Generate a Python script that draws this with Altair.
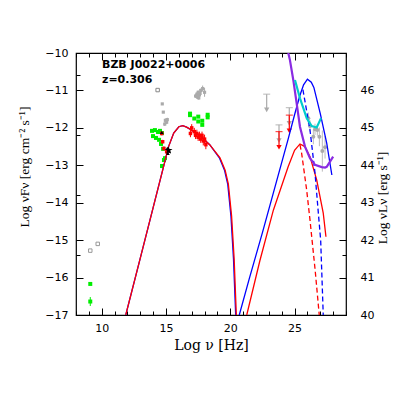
import altair as alt
import pandas as pd

# ---------------- model curves ----------------
sync_red_x = [11.87, 13.0, 14.0, 14.8, 15.2, 15.6, 16.0, 16.3, 16.6, 17.0, 17.6, 18.4, 19.2, 19.6, 19.85, 20.1, 20.3, 20.47]
sync_red_y = [-17.0, -15.48, -14.13, -13.05, -12.5, -12.14, -11.97, -11.94, -11.98, -12.06, -12.2, -12.45, -12.8, -13.13, -13.5, -14.35, -15.5, -17.0]
sync_blue_x = [11.87, 13.0, 14.0, 14.8, 15.2, 15.6, 16.0, 16.3, 16.6, 17.0, 17.6, 18.4, 19.15, 19.55, 19.8, 20.05, 20.25, 20.42]
sync_blue_y = [-17.0, -15.48, -14.13, -13.05, -12.5, -12.14, -11.97, -11.94, -11.98, -12.06, -12.2, -12.45, -12.8, -13.13, -13.5, -14.35, -15.5, -17.0]

ic_blue_x = [20.7, 21.5, 22.5, 23.5, 24.5, 25.0, 25.4, 25.7, 26.0, 26.3, 26.5, 27.0, 27.5, 27.9]
ic_blue_y = [-17.0, -16.0, -14.8, -13.55, -12.3, -11.65, -11.15, -10.85, -10.70, -10.78, -10.92, -11.62, -12.41, -13.26]
ic_red_x = [21.28, 22.3, 23.35, 24.5, 25.0, 25.42, 25.8, 26.2, 26.72, 27.23, 27.44]
ic_red_y = [-17.0, -15.55, -14.2, -13.04, -12.6, -12.43, -12.5, -12.77, -13.39, -14.28, -14.91]
ec_red_x = [25.42, 25.55, 25.94, 26.2, 26.33, 26.6, 26.92]
ec_red_y = [-12.45, -12.68, -13.66, -14.46, -14.9, -15.8, -17.0]
ec_blue_x = [25.65, 26.2, 26.59, 26.85, 27.03, 27.23]
ec_blue_y = [-10.98, -12.06, -13.21, -14.28, -15.0, -17.0]

purple_x = [24.51, 24.64, 24.9, 25.16, 25.42, 25.81, 26.2, 26.59, 27.11, 27.37, 27.5, 28.0]
purple_y = [-10.0, -10.19, -10.72, -11.34, -11.97, -12.5, -12.81, -12.99, -13.05, -13.06, -13.04, -12.77]
cyan_x = [25.03, 25.42, 25.94, 26.33, 26.72, 27.06]
cyan_y = [-10.72, -11.21, -11.74, -11.95, -11.99, -11.74]

# ---------------- data points ----------------
radio_grey_x = [9.11, 9.69]
radio_grey_y = [-15.28, -15.1]
green_x = [9.11, 9.11, 13.91, 14.14, 14.38, 13.99, 14.22, 14.53, 14.69, 14.46, 14.61, 14.77, 14.84, 14.69, 14.92,
           16.87, 16.87, 17.2, 17.51, 17.51, 17.82, 17.82, 18.24, 18.24]
green_y = [-16.17, -16.64, -12.08, -12.06, -12.11, -12.22, -12.27, -12.08, -12.14, -12.32, -12.43, -12.56, -12.86, -13.02, -12.81,
           -11.66, -11.62, -11.75, -11.70, -11.83, -11.81, -11.92, -11.65, -11.72]
green_err = [0.0, 0.12, 0.03, 0.03, 0.03, 0.03, 0.03, 0.03, 0.03, 0.03, 0.05, 0.05, 0.05, 0.05, 0.05,
             0.0, 0.0, 0.0, 0.0, 0.0, 0.0, 0.0, 0.0, 0.0]

grey_x = [14.71, 14.79, 14.95, 15.05, 15.1, 14.9, 17.3, 17.4, 17.5, 17.6, 17.7, 17.45, 17.55, 17.65, 17.85, 18.0]
grey_y = [-11.36, -11.58, -11.8, -11.85, -11.78, -11.9, -11.15, -11.1, -11.05, -11.12, -11.0, -11.18, -11.2, -11.08, -10.95, -11.05]
grey_err = [0.0, 0.0, 0.05, 0.05, 0.05, 0.05, 0.05, 0.05, 0.05, 0.05, 0.05, 0.05, 0.05, 0.05, 0.08, 0.12]
grey_open_x = [14.35]
grey_open_y = [-10.99]

red_x = [14.67, 14.74, 14.84, 15.05, 16.9, 17.0, 17.2, 17.3, 17.4, 17.5, 17.6, 17.7, 17.8, 17.9, 18.0, 18.1]
red_y = [-12.15, -12.37, -12.55, -12.64, -12.15, -12.0, -12.1, -12.2, -12.15, -12.25, -12.2, -12.3, -12.2, -12.35, -12.3, -12.45]
red_err = [0.05, 0.05, 0.05, 0.05, 0.1, 0.1, 0.1, 0.1, 0.1, 0.1, 0.1, 0.1, 0.1, 0.12, 0.12, 0.12]

black_x = [14.67, 15.1, 15.25, 15.15]
black_y = [-12.12, -12.55, -12.62, -12.68]
star_x = [15.2]
star_y = [-12.6]

fermi_x = [26.07, 26.2, 26.46, 26.59, 26.77, 26.93, 27.16, 27.37]
fermi_y = [-11.74, -11.95, -12.24, -12.04, -12.06, -12.24, -12.62, -12.52]
fermi_err = [0.15, 0.15, 0.2, 0.15, 0.15, 0.25, 0.55, 0.3]

ul_grey_x = [22.83, 23.79, 24.59]
ul_grey_y = [-11.10, -11.92, -11.46]
ul_red_x = [23.79, 24.59]
ul_red_y = [-12.10, -11.66]

X_DOM = [8, 29]
Y_DOM = [-17, -10]
R_DOM = [40, 47]
x_major = [10, 15, 20, 25]
x_minor = list(range(8, 30))
y_major = list(range(-17, -9))
y_minor = [round(-17 + 0.2 * i, 1) for i in range(36)]
r_major = list(range(40, 47))
r_minor = [round(40 + 0.2 * i, 1) for i in range(36)]

LINE_FONT = "DejaVu Sans"
TITLE_FONT = "DejaVu Serif"
YTITLE_FONT = "Liberation Serif"


def xenc(axis=None):
    return alt.X("x:Q", scale=alt.Scale(domain=X_DOM, nice=False, zero=False), axis=axis)


def yenc(axis=None, field="y:Q", dom=Y_DOM):
    return alt.Y(field, scale=alt.Scale(domain=dom, nice=False, zero=False), axis=axis)


def curve(xs, ys, color, width=1.3, dash=None):
    df = pd.DataFrame({"x": xs, "y": ys, "o": range(len(xs))})
    kw = dict(color=color, strokeWidth=width, clip=True)
    if dash:
        kw["strokeDash"] = dash
    return alt.Chart(df).mark_line(**kw).encode(x=xenc(), y=yenc(), order="o:Q")


def errbars(xs, ys, es, color):
    df = pd.DataFrame({"x": xs, "y": ys, "e": es})
    return alt.Chart(df).transform_filter("datum.e > 0").transform_calculate(
        lo="datum.y - datum.e", hi="datum.y + datum.e"
    ).mark_rule(color=color, strokeWidth=1).encode(
        x=xenc(), y=yenc(field="lo:Q"), y2="hi:Q"
    )


def pts(xs, ys, color, shape="square", size=14, filled=True):
    df = pd.DataFrame({"x": xs, "y": ys})
    return alt.Chart(df).mark_point(shape=shape, size=size, filled=filled, color=color,
                                    opacity=1, strokeWidth=1).encode(x=xenc(), y=yenc())


def uplims(xs, ys, color):
    df = pd.DataFrame({"x": xs, "y": ys})
    base = alt.Chart(df).transform_calculate(tip="datum.y - 0.42")
    stem = base.mark_rule(color=color, strokeWidth=1.2).encode(x=xenc(), y=yenc(), y2="tip:Q")
    bar = base.mark_tick(color=color, orient="horizontal", size=7, thickness=1.2).encode(x=xenc(), y=yenc())
    head = base.mark_point(shape="triangle-down", filled=True, size=28, color=color, opacity=1).encode(
        x=xenc(), y=yenc(field="tip:Q"))
    return [stem, bar, head]


dummy = pd.DataFrame({"x": [8], "y": [-17], "r": [40]})


def ax_x(orient, values, size, labels, title=None):
    a = alt.Axis(orient=orient, values=values, tickSize=size, offset=-size, domain=False, grid=False,
                 labels=labels, ticks=True, tickColor="black", tickWidth=1,
                 labelFont=LINE_FONT, labelFontSize=11, labelColor="black", labelPadding=7,
                 title=title if title else None, titleFont=TITLE_FONT, titleFontSize=14,
                 titleFontWeight="normal", titleColor="black", titlePadding=5, format="d")
    return alt.Chart(dummy).mark_point(opacity=0).encode(x=xenc(a), y=yenc())


def ax_y(orient, values, size, labels, dom=Y_DOM, field="y:Q", pad=8):
    a = alt.Axis(orient=orient, values=values, tickSize=size, offset=-size, domain=False, grid=False,
                 labels=labels, ticks=True, tickColor="black", tickWidth=1,
                 labelFont=LINE_FONT, labelFontSize=11, labelColor="black", labelPadding=pad,
                 title=None, format="d")
    return alt.Chart(dummy).mark_point(opacity=0).encode(x=xenc(), y=yenc(a, field=field, dom=dom))


layers = []
# axes
layers.append(ax_x("bottom", x_major, 7, True, "Log  ν  [Hz]"))
layers.append(ax_x("bottom", x_minor, 4, False))
layers.append(ax_x("top", x_major, 7, False))
layers.append(ax_x("top", x_minor, 4, False))
layers.append(ax_y("left", y_major, 7, True))
layers.append(ax_y("left", y_minor, 4, False))
layers.append(ax_y("right", r_major, 7, True, dom=R_DOM, field="r:Q", pad=14))
layers.append(ax_y("right", r_minor, 4, False, dom=R_DOM, field="r:Q"))

# y-axis titles (rotated text)
ytitles = [("Log νFν [erg cm⁻² s⁻¹]", -51, 114), ("Log νLν [erg s⁻¹]", 307, 145)]
for t, px, py in ytitles:
    layers.append(alt.Chart(pd.DataFrame({"t": [t]})).mark_text(
        align="center", baseline="middle", angle=270, font=YTITLE_FONT, fontSize=13.5, color="black"
    ).encode(text="t:N", x=alt.value(px), y=alt.value(py)))

# data
layers.append(errbars(green_x, green_y, green_err, "#00ee00"))
layers.append(errbars(grey_x, grey_y, grey_err, "#aaaaaa"))
layers.append(errbars(fermi_x, fermi_y, fermi_err, "#bbbbbb"))
layers.append(pts(radio_grey_x, radio_grey_y, "#999999", "square", 12, False))
layers.append(pts(grey_open_x, grey_open_y, "#888888", "square", 12, False))
layers.append(pts(grey_x, grey_y, "#aaaaaa", "square", 10, True))
layers.append(pts(fermi_x, fermi_y, "#aaaaaa", "circle", 16, True))
layers.append(pts(green_x, green_y, "#00ee00", "square", 16, True))
layers += uplims(ul_grey_x, ul_grey_y, "#aaaaaa")
layers += uplims(ul_red_x, ul_red_y, "#ff0000")

# curves
layers.append(curve(sync_blue_x, sync_blue_y, "#0000ff", 1.3))
layers.append(curve(sync_red_x, sync_red_y, "#ff0000", 1.3))
layers.append(curve(ic_blue_x, ic_blue_y, "#0000ff", 1.3))
layers.append(curve(ic_red_x, ic_red_y, "#ff0000", 1.3))
layers.append(curve(ec_blue_x, ec_blue_y, "#0000ff", 1.3, [5, 3]))
layers.append(curve(ec_red_x, ec_red_y, "#ff0000", 1.3, [5, 3]))
layers.append(curve(purple_x, purple_y, "#8a2be2", 2.2))
layers.append(curve(cyan_x, cyan_y, "#00cccc", 2.2))

layers.append(errbars(red_x, red_y, red_err, "#ff0000"))
layers.append(pts(red_x, red_y, "#ff0000", "square", 12, True))
layers.append(pts(black_x, black_y, "#000000", "triangle-up", 14, True))
star = "M0,-1L0.22,-0.31L0.95,-0.31L0.36,0.12L0.59,0.81L0,0.38L-0.59,0.81L-0.36,0.12L-0.95,-0.31L-0.22,-0.31Z"
layers.append(pts(star_x, star_y, "#000000", star, 70, True))

label_lines = ["BZB J0022+0006", "z=0.306"]
for i, t in enumerate(label_lines):
    layers.append(alt.Chart(pd.DataFrame({"t": [t]})).mark_text(
        align="left", baseline="alphabetic", font=LINE_FONT, fontSize=11, fontWeight="bold", color="black"
    ).encode(text="t:N", x=alt.value(26), y=alt.value(15 + 15 * i)))

chart = alt.layer(*layers).resolve_scale(x="independent", y="independent").properties(
    width=270, height=262, autosize="none",
    padding={"left": 68, "top": 45, "right": 57, "bottom": 88},
).configure_view(stroke="black", strokeWidth=1.2)

chart.save("out.html", embed_options={"renderer": "svg", "actions": False})
